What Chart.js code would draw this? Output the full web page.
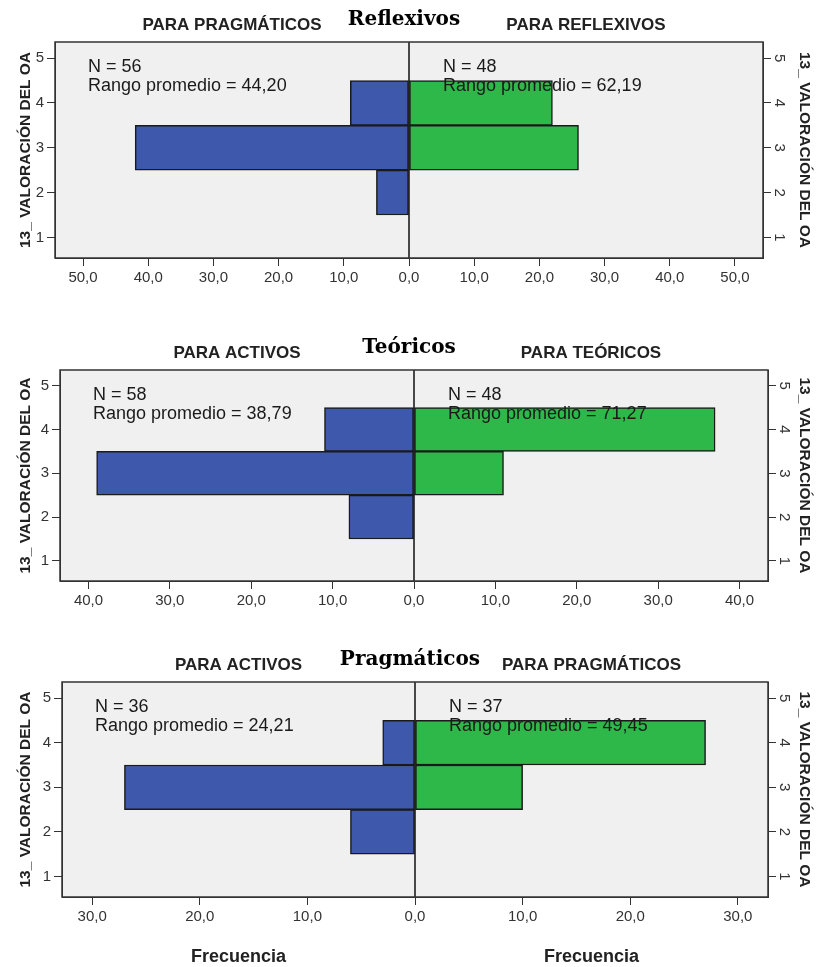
<!DOCTYPE html>
<html>
<head>
<meta charset="utf-8">
<script src="https://cdn.jsdelivr.net/npm/chart.js@4.4.1/dist/chart.umd.min.js"></script>
<style>
    body { margin: 0; background: #fff; }
    #wrap { position: relative; width: 821px; height: 967px; }
    canvas { position: absolute; left: 0; }
</style>
</head>
<body>
<div id="wrap">
    <canvas id="c1" width="821" height="300" style="top:0px"></canvas>
    <canvas id="c2" width="821" height="300" style="top:322px"></canvas>
    <canvas id="c3" width="821" height="327" style="top:640px"></canvas>
</div>
<script>
// rating categories (13_ VALORACIÓN DEL OA)
let ratingsLeft = [2, 3, 4];
let ratingsRight = [3, 4];
let yTicks = [1, 2, 3, 4, 5];

// frequencies
let reflexivosLeft = [5, 42, 9];     // para pragmáticos
let reflexivosRight = [26, 22];      // para reflexivos
let teoricosLeft = [8, 39, 11];      // para activos
let teoricosRight = [11, 37];        // para teóricos
let pragmaticosLeft = [6, 27, 3];    // para activos
let pragmaticosRight = [10, 27];     // para pragmáticos

// frequency ticks
let xTicks1 = [-50, -40, -30, -20, -10, 0, 10, 20, 30, 40, 50];
let xTicks2 = [-40, -30, -20, -10, 0, 10, 20, 30, 40];
let xTicks3 = [-30, -20, -10, 0, 10, 20, 30];

Chart.defaults.font.family = '"Liberation Sans", Arial, sans-serif';

/* -------- texts drawn around / inside each panel -------- */
const panelText = {
    id: "panelText",
    beforeDraw(chart) {
        const a = chart.chartArea, ctx = chart.ctx;
        ctx.save();
        ctx.fillStyle = "#f0f0f0";
        ctx.fillRect(a.left, a.top, a.right - a.left, a.bottom - a.top);
        ctx.restore();
    },
    afterDatasetsDraw(chart, args, opts) {
        const a = chart.chartArea, ctx = chart.ctx;
        const x0 = chart.scales.x.getPixelForValue(0);
        ctx.save();
        ctx.strokeStyle = "#111";
        ctx.lineWidth = 1.5;
        ctx.beginPath();
        ctx.moveTo(x0, a.top);
        ctx.lineTo(x0, a.bottom);
        ctx.stroke();
        ctx.strokeStyle = "#333";
        ctx.strokeRect(a.left, a.top, a.right - a.left, a.bottom - a.top);

        ctx.fillStyle = "#1a1a1a";
        ctx.font = '18px "Liberation Sans", Arial, sans-serif';
        ctx.textAlign = "left";
        opts.leftStats.forEach((t, i) => ctx.fillText(t, a.left + 33, a.top + 30 + i * 19));
        opts.rightStats.forEach((t, i) => ctx.fillText(t, x0 + 34, a.top + 30 + i * 19));

        ctx.textAlign = "center";
        ctx.fillStyle = "#222";
        ctx.font = 'bold 17px "Liberation Sans", Arial, sans-serif';
        ctx.fillText(opts.leftLabel, (a.left + x0) / 2, a.top - 12);
        ctx.fillText(opts.rightLabel, (x0 + a.right) / 2, a.top - 12);

        ctx.fillStyle = "#000";
        ctx.font = 'bold 20px "DejaVu Serif", serif';
        ctx.fillText(opts.heading, x0 - 5, a.top - 17);

        if (opts.footer) {
            ctx.fillStyle = "#222";
            ctx.font = 'bold 18px "Liberation Sans", Arial, sans-serif';
            ctx.fillText(opts.footer, (a.left + x0) / 2, a.bottom + 65);
            ctx.fillText(opts.footer, (x0 + a.right) / 2, a.bottom + 65);
        }
        ctx.restore();
    }
};

function axisY(p, side) {
    const right = side === "right";
    return {
        type: "linear",
        position: side,
        min: 0.54,
        max: 5.36,
        offset: false,
        afterBuildTicks: s => { s.ticks = yTicks.map(v => ({ value: v })); },
        afterFit: s => { s.width = right ? p.rw : p.lw; },
        ticks: {
            color: "#333",
            font: { size: 15 },
            padding: right ? 4 : 3,
            minRotation: right ? -90 : 0,
            maxRotation: right ? -90 : 0,
            crossAlign: right ? "center" : "near"
        },
        grid: { drawOnChartArea: false, offset: false, tickLength: 8, color: "#333" },
        border: { color: "#333" },
        title: {
            display: true,
            text: "13_ VALORACIÓN DEL OA",
            color: "#222",
            font: { size: 15.5, weight: "bold" },
            padding: { top: right ? 7 : 16 }
        }
    };
}

function makePanel(id, p) {
    new Chart(document.getElementById(id), {
        type: "bar",
        data: {
            datasets: [{
                data: p.left.map((v, i) => ({ x: -v, y: ratingsLeft[i] })),
                backgroundColor: "#3e58ab",
                borderColor: "#1a1a1a",
                borderWidth: 1.5,
                borderSkipped: false,
                grouped: false,
                categoryPercentage: 1,
                barPercentage: 1
            }, {
                data: p.right.map((v, i) => ({ x: v, y: ratingsRight[i] })),
                backgroundColor: "#2fb84a",
                borderColor: "#1a1a1a",
                borderWidth: 1.5,
                borderSkipped: false,
                grouped: false,
                categoryPercentage: 1,
                barPercentage: 1
            }]
        },
        options: {
            indexAxis: "y",
            responsive: false,
            animation: false,
            layout: { padding: { top: p.top } },
            plugins: {
                legend: { display: false },
                tooltip: { enabled: false },
                panelText: {
                    heading: p.heading,
                    leftLabel: p.leftLabel,
                    rightLabel: p.rightLabel,
                    leftStats: p.leftStats,
                    rightStats: p.rightStats,
                    footer: p.footer
                }
            },
            scales: {
                x: {
                    type: "linear",
                    min: -p.ext,
                    max: p.ext,
                    afterBuildTicks: s => { s.ticks = p.xTicks.map(v => ({ value: v })); },
                    afterFit: s => { s.height = p.xh; },
                    ticks: {
                        color: "#333",
                        font: { size: 15 },
                        padding: 3,
                        maxRotation: 0,
                        autoSkip: false,
                        callback: v => Math.abs(v).toFixed(1).replace(".", ",")
                    },
                    grid: { drawOnChartArea: false, tickLength: 8, color: "#333" },
                    border: { color: "#333" }
                },
                y: axisY(p, "left"),
                y2: axisY(p, "right")
            }
        },
        plugins: [panelText]
    });
}

makePanel("c1", {
    left: reflexivosLeft, right: reflexivosRight, xTicks: xTicks1, ext: 54.3,
    top: 42, xh: 42, lw: 55, rw: 58,
    heading: "Reflexivos", leftLabel: "PARA PRAGMÁTICOS", rightLabel: "PARA REFLEXIVOS",
    leftStats: ["N = 56", "Rango promedio = 44,20"],
    rightStats: ["N = 48", "Rango promedio = 62,19"]
});

makePanel("c2", {
    left: teoricosLeft, right: teoricosRight, xTicks: xTicks2, ext: 43.5,
    top: 48, xh: 41, lw: 60, rw: 53,
    heading: "Teóricos", leftLabel: "PARA ACTIVOS", rightLabel: "PARA TEÓRICOS",
    leftStats: ["N = 58", "Rango promedio = 38,79"],
    rightStats: ["N = 48", "Rango promedio = 71,27"]
});

makePanel("c3", {
    left: pragmaticosLeft, right: pragmaticosRight, xTicks: xTicks3, ext: 32.8,
    top: 42, xh: 70, lw: 62, rw: 53,
    heading: "Pragmáticos", leftLabel: "PARA ACTIVOS", rightLabel: "PARA PRAGMÁTICOS",
    leftStats: ["N = 36", "Rango promedio = 24,21"],
    rightStats: ["N = 37", "Rango promedio = 49,45"],
    footer: "Frecuencia"
});
</script>
</body>
</html>
